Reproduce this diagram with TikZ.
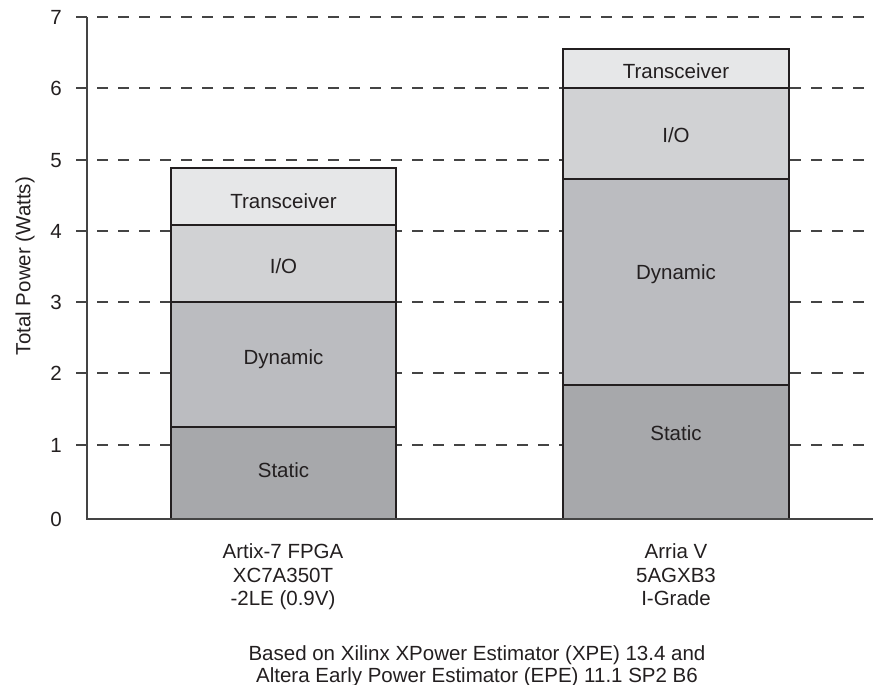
\documentclass[tikz,border=0pt]{standalone}
\usepackage{fontspec}
\setmainfont{Liberation Sans}
\definecolor{cstat}{HTML}{A7A8AB}
\definecolor{cdyn}{HTML}{BBBCC0}
\definecolor{cio}{HTML}{D1D2D4}
\definecolor{ctx}{HTML}{E6E7E8}
\definecolor{cline}{HTML}{231F20}
\definecolor{caxis}{HTML}{444444}
\begin{document}
\begin{tikzpicture}[x=1pt,y=-1pt,
  seg/.style={draw=cline,line width=2.8pt},
  lbl/.style={font=\fontsize{20.5}{24}\selectfont,text=cline,inner sep=0pt,anchor=base},
  tick/.style={font=\fontsize{20.5}{24}\selectfont,text=cline,inner sep=0pt,anchor=base},
  grid/.style={draw=caxis,line width=1.5pt,dash pattern=on 11pt off 10pt},
  axis/.style={draw=caxis,line width=1.6pt}]
\useasboundingbox (0,0) rectangle (873,685);
% grid lines
\foreach \v/\yy in {1/445,2/373,3/302,4/231,5/160,6/88,7/17}{
  \draw[grid] (97,\yy) -- (873,\yy);
  \draw[axis] (76,\yy) -- (87,\yy);
  \node[tick] (t\v) at (56,\yy+7.5) {\v};
}
\node[tick] (t0) at (56,526) {0};
% bar 1
\fill[cstat] (171,519) rectangle (396,427);
\fill[cdyn] (171,427) rectangle (396,302);
\fill[cio] (171,302) rectangle (396,225);
\fill[ctx] (171,225) rectangle (396,168);
\draw[seg] (171,427) -- (396,427);
\draw[seg] (171,302) -- (396,302);
\draw[seg] (171,225) -- (396,225);
\draw[seg] (171,519) rectangle (396,168);
% bar 2
\fill[cstat] (563,519) rectangle (789,385);
\fill[cdyn] (563,385) rectangle (789,179);
\fill[cio] (563,179) rectangle (789,88);
\fill[ctx] (563,88) rectangle (789,49);
\draw[seg] (563,385) -- (789,385);
\draw[seg] (563,179) -- (789,179);
\draw[seg] (563,88) -- (789,88);
\draw[seg] (563,519) rectangle (789,49);
% axes
\draw[axis] (87,17) -- (87,519) -- (873,519);
% segment labels
\node[lbl] (s1) at (283.5,477) {Static};
\node[lbl] (d1) at (283.5,364) {Dynamic};
\node[lbl] (i1) at (283.5,273) {I/O};
\node[lbl] (x1) at (283.5,208) {Transceiver};
\node[lbl] (s2) at (676,440) {Static};
\node[lbl] (d2) at (676,279) {Dynamic};
\node[lbl] (i2) at (676,142) {I/O};
\node[lbl] (x2) at (676,78) {Transceiver};
% y label
\node[lbl,rotate=90,anchor=center] (yl) at (25,266) {Total Power (Watts)};
% x labels
\node[lbl] (b1a) at (283,558) {Artix-7 FPGA};
\node[lbl] (b1b) at (283,582) {XC7A350T};
\node[lbl] (b1c) at (283,605) {-2LE (0.9V)};
\node[lbl] (b2a) at (676,558) {Arria V};
\node[lbl] (b2b) at (676,582) {5AGXB3};
\node[lbl] (b2c) at (676,605) {I-Grade};
% footer
\node[lbl] (f1) at (477,660) {Based on Xilinx XPower Estimator (XPE) 13.4 and};
\node[lbl] (f2) at (477,682) {Altera Early Power Estimator (EPE) 11.1 SP2 B6};
\end{tikzpicture}
\end{document}
